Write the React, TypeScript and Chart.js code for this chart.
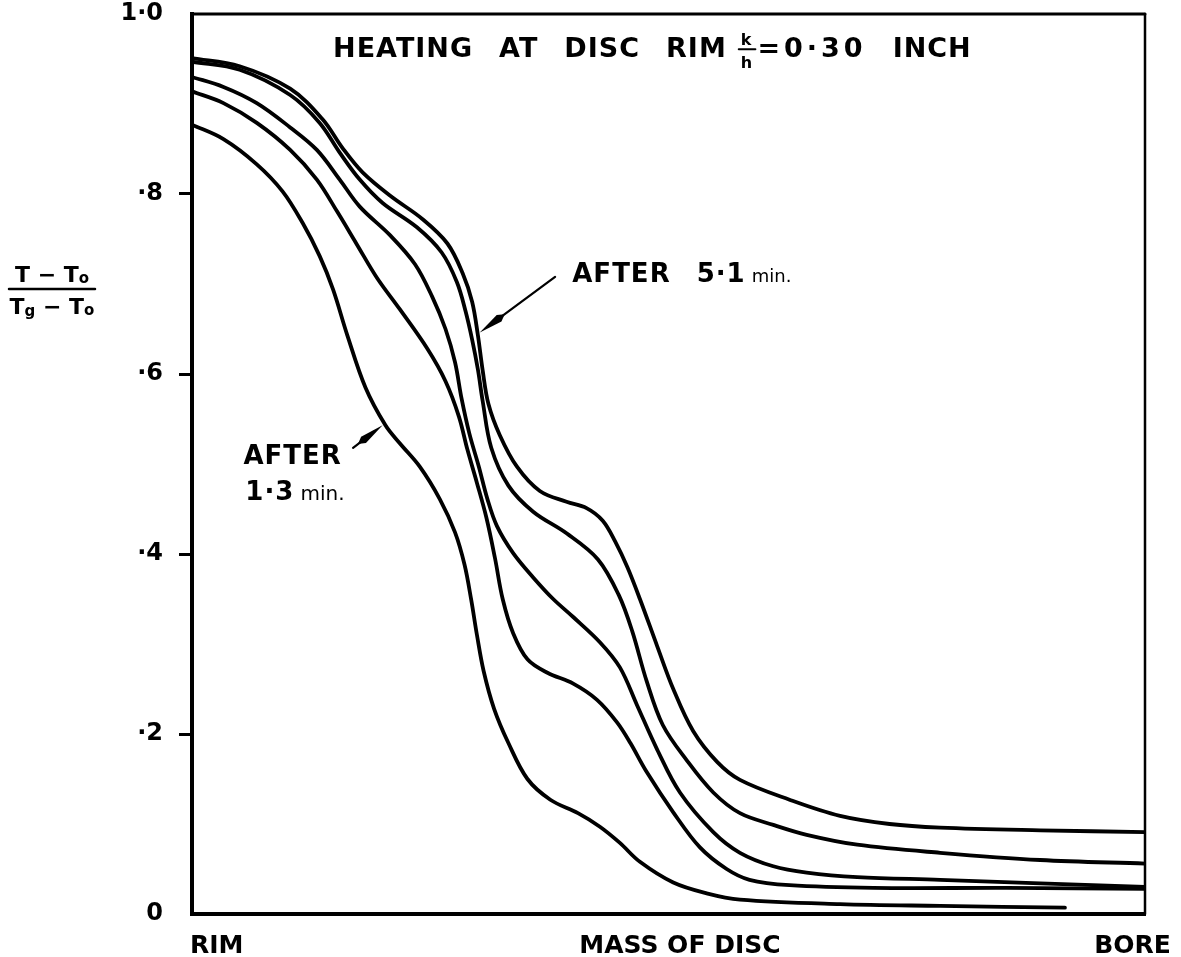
import React, { useEffect, useRef } from 'react';
import { Chart, registerables } from 'chart.js';

Chart.register(...registerables);

// ---- axis ticks ----
const xTickValues = [0.026, 0.512, 0.987];
const xTickLabels = ['RIM', 'MASS OF DISC', 'BORE'];
const yTickValues = [0, 0.2, 0.4, 0.6, 0.8, 1.0];
const yTickLabels = ['0', '·2', '·4', '·6', '·8', '1·0'];

// ---- curves: x = fraction of distance rim→bore, y = (T-To)/(Tg-To) ----
// After 5.1 min (highest at bore)
const curveAX = [0, 0.050, 0.103, 0.137, 0.158, 0.179, 0.208, 0.242, 0.268, 0.284, 0.294, 0.300, 0.305, 0.311, 0.323, 0.341, 0.365, 0.393, 0.414, 0.431, 0.444, 0.457, 0.470, 0.488, 0.505, 0.526, 0.551, 0.575, 0.627, 0.680, 0.732, 0.785, 0.890, 1.0];
const curveAY = [0.951, 0.942, 0.917, 0.883, 0.851, 0.824, 0.798, 0.772, 0.745, 0.712, 0.680, 0.643, 0.604, 0.567, 0.532, 0.497, 0.470, 0.458, 0.451, 0.437, 0.414, 0.385, 0.350, 0.298, 0.250, 0.203, 0.169, 0.149, 0.127, 0.109, 0.100, 0.096, 0.093, 0.091];

const curveBX = [0, 0.050, 0.103, 0.134, 0.155, 0.176, 0.200, 0.236, 0.262, 0.278, 0.287, 0.294, 0.300, 0.305, 0.314, 0.332, 0.358, 0.393, 0.426, 0.448, 0.462, 0.477, 0.494, 0.519, 0.547, 0.575, 0.610, 0.645, 0.698, 0.785, 0.890, 1.0];
const curveBY = [0.947, 0.938, 0.910, 0.879, 0.846, 0.816, 0.790, 0.763, 0.735, 0.702, 0.670, 0.638, 0.605, 0.570, 0.518, 0.476, 0.447, 0.423, 0.394, 0.354, 0.314, 0.259, 0.210, 0.171, 0.135, 0.112, 0.099, 0.088, 0.077, 0.068, 0.060, 0.056];

const curveCX = [0, 0.033, 0.068, 0.103, 0.131, 0.155, 0.176, 0.208, 0.234, 0.252, 0.266, 0.276, 0.283, 0.291, 0.301, 0.310, 0.320, 0.337, 0.358, 0.379, 0.400, 0.428, 0.449, 0.467, 0.488, 0.512, 0.547, 0.575, 0.610, 0.645, 0.698, 0.785, 0.890, 1.0];
const curveCY = [0.930, 0.919, 0.901, 0.874, 0.849, 0.816, 0.786, 0.754, 0.722, 0.686, 0.650, 0.613, 0.572, 0.534, 0.497, 0.461, 0.431, 0.401, 0.374, 0.350, 0.330, 0.302, 0.274, 0.232, 0.183, 0.135, 0.091, 0.068, 0.053, 0.046, 0.041, 0.038, 0.034, 0.030];

const curveDX = [0, 0.033, 0.068, 0.103, 0.131, 0.152, 0.173, 0.194, 0.218, 0.247, 0.266, 0.280, 0.289, 0.299, 0.309, 0.318, 0.326, 0.337, 0.352, 0.373, 0.400, 0.425, 0.446, 0.460, 0.477, 0.505, 0.533, 0.561, 0.585, 0.627, 0.715, 0.855, 1.0];
const curveDY = [0.914, 0.901, 0.879, 0.849, 0.816, 0.781, 0.744, 0.707, 0.672, 0.628, 0.592, 0.553, 0.516, 0.479, 0.440, 0.395, 0.350, 0.312, 0.283, 0.268, 0.256, 0.238, 0.213, 0.190, 0.158, 0.113, 0.074, 0.050, 0.038, 0.032, 0.029, 0.029, 0.028];

// After 1.3 min (lowest)
const curveEX = [0, 0.033, 0.068, 0.095, 0.116, 0.134, 0.148, 0.163, 0.182, 0.203, 0.218, 0.239, 0.260, 0.276, 0.286, 0.293, 0.299, 0.306, 0.317, 0.332, 0.352, 0.376, 0.405, 0.428, 0.449, 0.470, 0.505, 0.540, 0.575, 0.680, 0.785, 0.916];
const curveEY = [0.877, 0.861, 0.833, 0.803, 0.768, 0.731, 0.694, 0.643, 0.585, 0.543, 0.523, 0.497, 0.461, 0.424, 0.388, 0.349, 0.310, 0.270, 0.228, 0.190, 0.150, 0.127, 0.112, 0.097, 0.079, 0.058, 0.035, 0.023, 0.016, 0.011, 0.009, 0.007];

const seriesNames = ['After 5.1 min', 'Curve 2', 'Curve 3', 'Curve 4', 'After 1.3 min'];

const FONT = '"DejaVu Sans", sans-serif';

function toPoints(xs: number[], ys: number[]) {
  return xs.map((x, i) => ({ x, y: ys[i] }));
}

function drawArrow(ctx: CanvasRenderingContext2D, x1: number, y1: number, x2: number, y2: number) {
  const dx = x2 - x1, dy = y2 - y1;
  const len = Math.hypot(dx, dy);
  const ux = dx / len, uy = dy / len;
  const nx = -uy, ny = ux;
  ctx.lineWidth = 2.2;
  ctx.beginPath();
  ctx.moveTo(x1, y1);
  ctx.lineTo(x2 - ux * 10, y2 - uy * 10);
  ctx.stroke();
  const back = 24;
  const bx = x2 - ux * back, by = y2 - uy * back;
  ctx.beginPath();
  ctx.moveTo(x2, y2);
  ctx.lineTo(bx + nx * 4, by + ny * 4);
  ctx.lineTo(x2 - ux * (back + 7), y2 - uy * (back + 7));
  ctx.lineTo(bx - nx * 4, by - ny * 4);
  ctx.closePath();
  ctx.fill();
}

const decorPlugin = {
  id: 'decor',
  afterDraw(chart: any) {
    const { ctx, chartArea: ca, scales } = chart;
    const px = (v: number) => scales.x.getPixelForValue(v);
    const py = (v: number) => scales.y.getPixelForValue(v);
    ctx.save();
    ctx.strokeStyle = '#000';
    ctx.fillStyle = '#000';
    ctx.lineCap = 'round';

    // frame top & right
    ctx.lineWidth = 3;
    ctx.beginPath();
    ctx.moveTo(ca.left, ca.top);
    ctx.lineTo(ca.right, ca.top);
    ctx.stroke();
    ctx.lineWidth = 2.5;
    ctx.beginPath();
    ctx.moveTo(ca.right, ca.top);
    ctx.lineTo(ca.right, ca.bottom);
    ctx.stroke();

    // title
    ctx.textBaseline = 'alphabetic';
    ctx.textAlign = 'left';
    (ctx as any).letterSpacing = '1px';
    ctx.font = `bold 27px ${FONT}`;
    let x = px(0.148);
    const base = py(0.952);
    const gap = 26;
    for (const w of ['HEATING', 'AT', 'DISC', 'RIM']) {
      ctx.fillText(w, x, base);
      x += ctx.measureText(w).width + gap;
    }
    // k/h fraction
    x -= gap - 12;
    ctx.font = `bold 16px ${FONT}`;
    const kw = ctx.measureText('k').width;
    ctx.fillText('k', x + 2, base - 12);
    ctx.fillText('h', x + 2, base + 11);
    ctx.lineWidth = 2;
    ctx.beginPath();
    ctx.moveTo(x, base - 8);
    ctx.lineTo(x + kw + 5, base - 8);
    ctx.stroke();
    x += kw + 7;
    ctx.font = `bold 27px ${FONT}`;
    (ctx as any).letterSpacing = '4px';
    ctx.fillText('=0·30', x, base);
    x += ctx.measureText('=0·30').width + gap;
    (ctx as any).letterSpacing = '1px';
    ctx.fillText('INCH', x, base);

    // annotation: after 5.1 min
    ctx.font = `bold 26px ${FONT}`;
    let ax = px(0.399);
    const ab = py(0.702);
    ctx.fillText('AFTER', ax, ab);
    ax += ctx.measureText('AFTER').width + 26;
    ctx.fillText('5·1', ax, ab);
    ax += ctx.measureText('5·1').width + 6;
    (ctx as any).letterSpacing = '0px';
    ctx.font = `18px ${FONT}`;
    ctx.fillText('min.', ax, ab);
    drawArrow(ctx, px(0.381), py(0.708), px(0.302), py(0.646));

    // annotation: after 1.3 min
    (ctx as any).letterSpacing = '1px';
    ctx.font = `bold 26px ${FONT}`;
    ctx.fillText('AFTER', px(0.054), py(0.500));
    ctx.fillText('1·3', px(0.056), py(0.460));
    const w13 = ctx.measureText('1·3').width;
    (ctx as any).letterSpacing = '0px';
    ctx.font = `20px ${FONT}`;
    ctx.fillText('min.', px(0.056) + w13 + 6, py(0.460));
    drawArrow(ctx, px(0.169), py(0.518), px(0.200), py(0.543));

    // y-axis title as a fraction
    const cx = 52;
    const lineY = 289;
    const drawTerm = (y: number, sub: string) => {
      ctx.font = `bold 22px ${FONT}`;
      const wT = ctx.measureText('T').width;
      ctx.font = `bold 15px ${FONT}`;
      const wSub = sub ? ctx.measureText(sub).width : 0;
      const wo = ctx.measureText('o').width;
      ctx.font = `bold 22px ${FONT}`;
      const wM = ctx.measureText(' − ').width;
      const total = wT + wSub + wM + wT + wo;
      let tx = cx - total / 2;
      ctx.fillText('T', tx, y);
      tx += wT;
      if (sub) {
        ctx.font = `bold 15px ${FONT}`;
        ctx.fillText(sub, tx, y + 2);
        tx += wSub;
        ctx.font = `bold 22px ${FONT}`;
      }
      ctx.fillText(' − ', tx, y);
      tx += wM;
      ctx.fillText('T', tx, y);
      tx += wT;
      ctx.font = `bold 15px ${FONT}`;
      ctx.fillText('o', tx, y + 1);
    };
    drawTerm(282, '');
    ctx.lineWidth = 2.5;
    ctx.beginPath();
    ctx.moveTo(9, lineY);
    ctx.lineTo(95, lineY);
    ctx.stroke();
    drawTerm(314, 'g');

    ctx.restore();
  },
};

export default function App() {
  const ref = useRef<HTMLCanvasElement | null>(null);
  useEffect(() => {
    if (!ref.current) return;
    const curves = [
      toPoints(curveAX, curveAY),
      toPoints(curveBX, curveBY),
      toPoints(curveCX, curveCY),
      toPoints(curveDX, curveDY),
      toPoints(curveEX, curveEY),
    ];
    const chart = new Chart(ref.current, {
      type: 'scatter',
      data: {
        datasets: curves.map((pts, i) => ({
          label: seriesNames[i],
          data: pts,
          showLine: true,
          borderColor: '#000',
          backgroundColor: '#000',
          borderWidth: 3.8,
          pointRadius: 0,
          pointHoverRadius: 0,
          tension: 0.35,
          borderCapStyle: 'round',
          borderJoinStyle: 'round',
        })),
      },
      options: {
        animation: false,
        responsive: false,
        devicePixelRatio: 1,
        events: [],
        layout: { padding: { left: 0, right: 36, top: 14, bottom: 0 } },
        plugins: {
          legend: { display: false },
          tooltip: { enabled: false },
          title: { display: false },
        },
        scales: {
          x: {
            type: 'linear',
            min: 0,
            max: 1,
            afterBuildTicks: (s: any) => {
              s.ticks = xTickValues.map((v) => ({ value: v }));
            },
            afterFit: (s: any) => {
              s.height = 43;
              s.paddingLeft = 0;
              s.paddingRight = 0;
            },
            ticks: {
              autoSkip: false,
              maxRotation: 0,
              padding: 17,
              color: '#000',
              font: { family: FONT, size: 25, weight: 'bold' },
              callback: (_v: any, i: number) => xTickLabels[i],
            },
            grid: { display: false, drawTicks: false },
            border: { display: true, color: '#000', width: 4 },
          },
          y: {
            type: 'linear',
            min: 0,
            max: 1,
            afterBuildTicks: (s: any) => {
              s.ticks = yTickValues.map((v) => ({ value: v }));
            },
            afterFit: (s: any) => {
              s.width = 192;
              s.paddingTop = 0;
              s.paddingBottom = 0;
            },
            ticks: {
              autoSkip: false,
              padding: 16,
              color: '#000',
              font: { family: FONT, size: 24, weight: 'bold' },
              callback: (_v: any, i: number) => yTickLabels[i],
            },
            grid: {
              display: true,
              drawOnChartArea: false,
              drawTicks: true,
              tickLength: 13,
              tickWidth: 3,
              tickColor: (c: any) =>
                c.tick && (c.tick.value === 0 || c.tick.value === 1) ? 'rgba(0,0,0,0)' : '#000',
            },
            border: { display: true, color: '#000', width: 4 },
          },
        },
      },
      plugins: [decorPlugin],
    } as any);
    return () => chart.destroy();
  }, []);

  return (
    <div style={{ position: 'fixed', left: 0, top: 0, width: 1181, height: 957, background: '#fff' }}>
      <canvas ref={ref} width={1181} height={957} style={{ width: 1181, height: 957, display: 'block' }} />
    </div>
  );
}
